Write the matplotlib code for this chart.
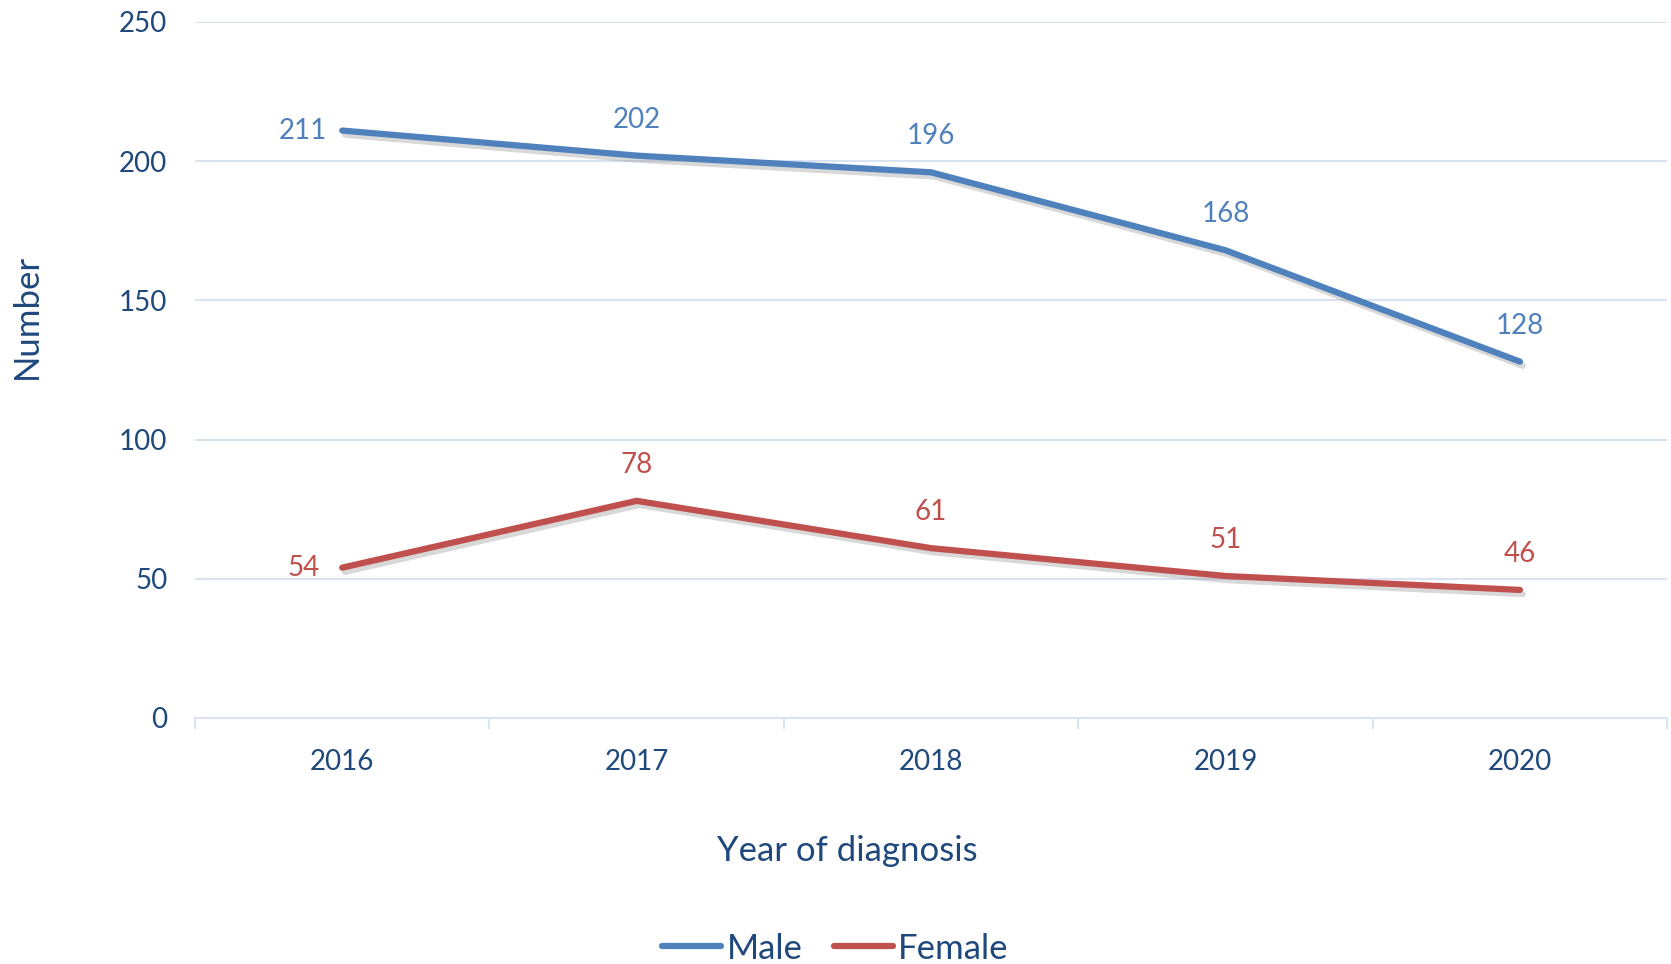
import matplotlib
matplotlib.use("Agg")
import matplotlib.pyplot as plt
import matplotlib.patheffects as pe
import numpy as np

years = ["2016", "2017", "2018", "2019", "2020"]
male = [211, 202, 196, 168, 128]
female = [54, 78, 61, 51, 46]

plt.rcParams['font.family'] = ['Lato', 'DejaVu Sans']
TXT = "#1F497D"
BLUE = "#4F81BD"
RED = "#C0504D"
GRID = "#D9E3F1"

fig = plt.figure(figsize=(16.71, 9.64), dpi=100)
ax = fig.add_axes([0.1167, 0.2552, 0.881, 0.722])

x = np.arange(len(years))
shadow = [pe.SimpleLineShadow(offset=(2, -3), shadow_color="gray", alpha=0.3), pe.Normal()]
ax.plot(x, male, color=BLUE, lw=4.5, solid_capstyle="round", label="Male", path_effects=shadow, zorder=3)
ax.plot(x, female, color=RED, lw=4.5, solid_capstyle="round", label="Female", path_effects=shadow, zorder=3)

for series, col in ((male, BLUE), (female, RED)):
    for i, v in enumerate(series):
        if i == 0:
            ax.annotate(str(v), (i, v), xytext=(-28, 0), textcoords="offset points",
                        ha="center", va="center", color=col, fontsize=20)
        else:
            ax.annotate(str(v), (i, v), xytext=(0, 26), textcoords="offset points",
                        ha="center", va="center", color=col, fontsize=20)

ax.set_xlim(-0.5, 4.5)
ax.set_ylim(0, 250)
ax.set_yticks([0, 50, 100, 150, 200, 250])
ax.set_xticks(x)
ax.set_xticklabels(years)
ax.set_xticks(np.arange(-0.5, 5, 1), minor=True)
ax.tick_params(axis="x", which="major", length=0, pad=22, labelsize=20, labelcolor=TXT)
ax.tick_params(axis="x", which="minor", length=8, width=1.5, color=GRID)
ax.tick_params(axis="y", length=0, pad=20, labelsize=20, labelcolor=TXT)
ax.grid(axis="y", color=GRID, lw=1.5)
ax.set_axisbelow(True)
for s in ("top", "right", "left"):
    ax.spines[s].set_visible(False)
ax.spines["bottom"].set_color(GRID)
ax.spines["bottom"].set_linewidth(1.5)

ax.set_xlabel("Year of diagnosis", fontsize=25, color=TXT)
ax.xaxis.set_label_coords(0.443, -0.168)
ax.set_ylabel("Number", fontsize=25, color=TXT)
ax.yaxis.set_label_coords(-0.103, 0.577)

leg = fig.legend(loc="center", bbox_to_anchor=(0.5, 0.016), ncol=2, frameon=False,
                 fontsize=25, handlelength=1.7, handletextpad=0.15, columnspacing=0.9)
for t in leg.get_texts():
    t.set_color(TXT)
for h in leg.get_lines():
    h.set_linewidth(4.5)
    h.set_path_effects([])

fig.savefig("out.png", dpi=100)
